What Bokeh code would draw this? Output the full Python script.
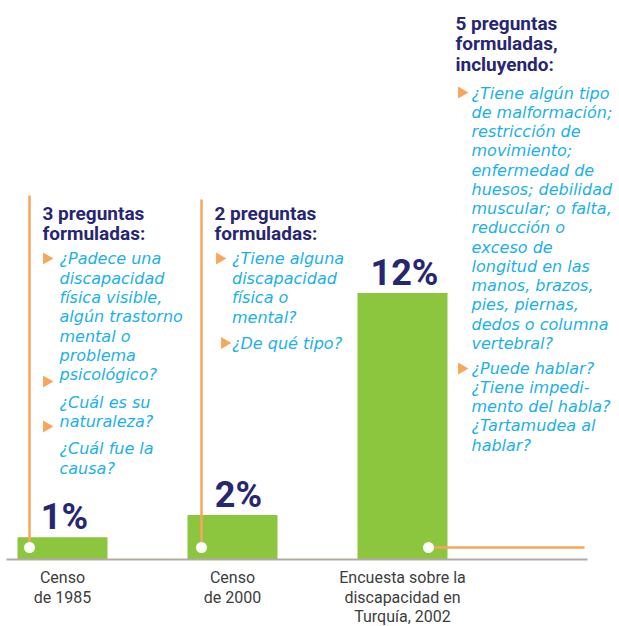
import math
from bokeh.plotting import figure
from bokeh.models import Range1d
from bokeh.core.properties import value
from bokeh.embed import file_html
from bokeh.resources import INLINE

# ---------------- data ----------------
categories = ["Censo\nde 1985", "Censo\nde 2000",
              "Encuesta sobre la\ndiscapacidad en\nTurquía, 2002"]
percent = [1, 2, 12]
percent_labels = ["1%", "2%", "12%"]

header_1 = ["3 preguntas", "formuladas:"]
header_2 = ["2 preguntas", "formuladas:"]
header_3 = ["5 preguntas", "formuladas,", "incluyendo:"]

questions_1 = [
    ["¿Padece una", "discapacidad", "física visible,", "algún trastorno",
     "mental o", "problema", "psicológico?"],
    ["¿Cuál es su", "naturaleza?"],
    ["¿Cuál fue la", "causa?"],
]
questions_2 = [
    ["¿Tiene alguna", "discapacidad", "física o", "mental?"],
    ["¿De qué tipo?"],
]
questions_3 = [
    ["¿Tiene algún tipo", "de malformación;", "restricción de", "movimiento;",
     "enfermedad de", "huesos; debilidad", "muscular; o falta,", "reducción o",
     "exceso de", "longitud en las", "manos, brazos,", "pies, piernas,",
     "dedos o columna", "vertebral?"],
    ["¿Puede hablar?", "¿Tiene impedi-", "mento del habla?", "¿Tartamudea al",
     "hablar?"],
]

# ---------------- layout / style ----------------
GREEN = "#8cc63f"
NAVY = "#272672"
CYAN = "#1bb1e8"
ORANGE = "#f8a65b"
GREY_LINE = "#b3aba2"
GREY_TEXT = "#3d3d3d"

bar_x = [62, 232, 402]
bar_w = 90
label_dx = [2, 6, 2]

W, H = 619, 626
px_per_pct = 22.2
baseline_y = 559

p = figure(width=W, height=H,
           x_range=Range1d(0, W),
           y_range=Range1d(-(H - baseline_y) / px_per_pct,
                           baseline_y / px_per_pct),
           output_backend="svg", toolbar_location=None, min_border=0)
p.extra_y_ranges = {"px": Range1d(H, 0)}
p.axis.visible = False
p.grid.visible = False
p.outline_line_color = None
p.background_fill_color = "white"

# bars
p.vbar(x=bar_x, width=bar_w, bottom=0, top=percent, fill_color=GREEN,
       line_color=None)

# baseline
p.segment(x0=[6], y0=[0], x1=[587], y1=[0], line_color=GREY_LINE, line_width=2)

# orange leader lines
p.segment(x0=[29, 201, 428], y0=[195, 199, 547],
          x1=[29, 201, 584], y1=[547, 547, 547],
          line_color=ORANGE, line_width=2.5, y_range_name="px")
p.scatter(x=[29, 201, 428], y=[547, 547, 547], size=11, marker="circle",
          fill_color="white", line_color=None, y_range_name="px")

# percent labels
p.text(x=bar_x, y=percent, text=percent_labels, x_offset=label_dx, y_offset=-20,
       text_align="center", text_baseline="alphabetic",
       text_font=value("Roboto"), text_font_style="bold",
       text_font_size="36px", text_color=NAVY)

# category labels
cx, cy, ct = [], [], []
for x, cat in zip(bar_x, categories):
    for i, line in enumerate(cat.split("\n")):
        cx.append(x)
        cy.append(577 + i * 19.6)
        ct.append(line)
p.text(x=cx, y=cy, text=ct, text_align="center", text_baseline="alphabetic",
       text_font=value("Roboto"), text_font_size="16px", text_color=GREY_TEXT,
       y_range_name="px")

# headers
hx, hy, ht = [], [], []
for (x0, y0, lines) in [(42, 212.5, header_1), (214, 212.5, header_2),
                        (455, 22.5, header_3)]:
    for i, line in enumerate(lines):
        hx.append(x0)
        hy.append(y0 + i * 20.7)
        ht.append(line)
p.text(x=hx, y=hy, text=ht, text_align="left", text_baseline="alphabetic",
       text_font=value("Roboto"), text_font_style="bold", text_font_size="19px",
       text_color=NAVY, y_range_name="px")

# questions
qx, qy, qt = [], [], []
blocks = [
    (59, [258.3, 401.7, 448.3], questions_1, 19.3),
    (231.5, [258.3, 342.7], questions_2, 19.5),
    (471, [92.7, 367.7], questions_3, 19.25),
]
for x0, starts, groups, step in blocks:
    for y0, group in zip(starts, groups):
        for i, line in enumerate(group):
            qx.append(x0)
            qy.append(y0 + i * step)
            qt.append(line)
p.text(x=qx, y=qy, text=qt, text_align="left", text_baseline="middle",
       text_font=value("DejaVu Sans"), text_font_style="italic",
       text_font_size="16px", text_color=CYAN, y_range_name="px")

# bullet triangles
tri_x = [46, 46, 46, 219, 224, 461, 461]
tri_y = [258, 381, 426, 258, 342.5, 92, 368]
p.scatter(x=tri_x, y=tri_y, marker="triangle", size=12, angle=-math.pi / 2,
          fill_color=ORANGE, line_color=None, y_range_name="px")

open("out.html", "w").write(file_html(p, INLINE))
